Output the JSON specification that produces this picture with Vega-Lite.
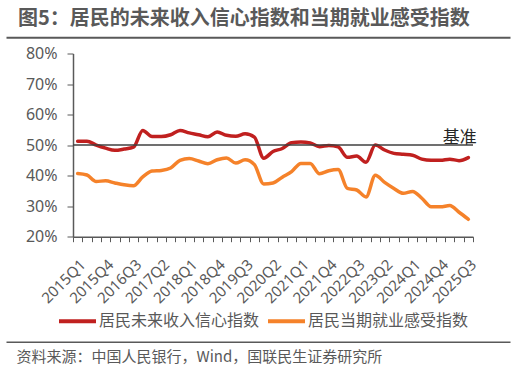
{
  "$schema": "https://vega.github.io/schema/vega-lite/v6.json",
  "autosize": {"type": "none"},
  "width": 504,
  "height": 183.2,
  "padding": {"left": 6, "top": 53.5, "right": 6, "bottom": 133.3},
  "background": "white",
  "title": {
    "text": "图5：居民的未来收入信心指数和当期就业感受指数",
    "anchor": "start", "frame": "group", "dx": 12, "offset": 8,
    "fontSize": 20, "font": "Noto Sans CJK SC", "fontWeight": "bold", "color": "#595959"
  },
  "config": {
    "view": {"stroke": null},
    "font": "Noto Sans CJK SC",
    "axisY": {
      "labelOverlap": false, "grid": false, "domainColor": "#595959", "domainWidth": 1.5,
      "tickColor": "#595959", "tickSize": 6, "labelPadding": 10, "labelFontSize": 16,
      "labelFont": "Noto Sans", "labelColor": "#595959", "title": null
    }
  },
  "data": {"values": [
    {"季度": "2015Q1", "居民未来收入信心指数": 51.3, "居民当期就业感受指数": 40.7},
    {"季度": "2015Q2", "居民未来收入信心指数": 51.3, "居民当期就业感受指数": 40.2},
    {"季度": "2015Q3", "居民未来收入信心指数": 50.0, "居民当期就业感受指数": 38.1},
    {"季度": "2015Q4", "居民未来收入信心指数": 49.0, "居民当期就业感受指数": 38.3},
    {"季度": "2016Q1", "居民未来收入信心指数": 48.3, "居民当期就业感受指数": 37.6},
    {"季度": "2016Q2", "居民未来收入信心指数": 48.7, "居民当期就业感受指数": 37.0},
    {"季度": "2016Q3", "居民未来收入信心指数": 49.3, "居民当期就业感受指数": 36.7},
    {"季度": "2016Q4", "居民未来收入信心指数": 54.8, "居民当期就业感受指数": 39.6},
    {"季度": "2017Q1", "居民未来收入信心指数": 52.8, "居民当期就业感受指数": 41.5},
    {"季度": "2017Q2", "居民未来收入信心指数": 52.8, "居民当期就业感受指数": 41.7},
    {"季度": "2017Q3", "居民未来收入信心指数": 53.4, "居民当期就业感受指数": 42.5},
    {"季度": "2017Q4", "居民未来收入信心指数": 54.8, "居民当期就业感受指数": 45.0},
    {"季度": "2018Q1", "居民未来收入信心指数": 54.0, "居民当期就业感受指数": 45.6},
    {"季度": "2018Q2", "居民未来收入信心指数": 53.4, "居民当期就业感受指数": 44.8},
    {"季度": "2018Q3", "居民未来收入信心指数": 52.7, "居民当期就业感受指数": 43.9},
    {"季度": "2018Q4", "居民未来收入信心指数": 54.3, "居民当期就业感受指数": 45.2},
    {"季度": "2019Q1", "居民未来收入信心指数": 53.2, "居民当期就业感受指数": 45.8},
    {"季度": "2019Q2", "居民未来收入信心指数": 52.9, "居民当期就业感受指数": 44.1},
    {"季度": "2019Q3", "居民未来收入信心指数": 53.7, "居民当期就业感受指数": 45.2},
    {"季度": "2019Q4", "居民未来收入信心指数": 52.6, "居民当期就业感受指数": 43.6},
    {"季度": "2020Q1", "居民未来收入信心指数": 45.7, "居民当期就业感受指数": 37.3},
    {"季度": "2020Q2", "居民未来收入信心指数": 47.9, "居民当期就业感受指数": 37.6},
    {"季度": "2020Q3", "居民未来收入信心指数": 48.9, "居民当期就业感受指数": 39.5},
    {"季度": "2020Q4", "居民未来收入信心指数": 50.8, "居民当期就业感受指数": 41.3},
    {"季度": "2021Q1", "居民未来收入信心指数": 51.0, "居民当期就业感受指数": 44.0},
    {"季度": "2021Q2", "居民未来收入信心指数": 50.7, "居民当期就业感受指数": 44.0},
    {"季度": "2021Q3", "居民未来收入信心指数": 49.5, "居民当期就业感受指数": 40.6},
    {"季度": "2021Q4", "居民未来收入信心指数": 49.9, "居民当期就业感受指数": 41.6},
    {"季度": "2022Q1", "居民未来收入信心指数": 49.4, "居民当期就业感受指数": 42.0},
    {"季度": "2022Q2", "居民未来收入信心指数": 46.0, "居民当期就业感受指数": 35.8},
    {"季度": "2022Q3", "居民未来收入信心指数": 46.4, "居民当期就业感受指数": 35.3},
    {"季度": "2022Q4", "居民未来收入信心指数": 44.4, "居民当期就业感受指数": 33.0},
    {"季度": "2023Q1", "居民未来收入信心指数": 50.0, "居民当期就业感受指数": 40.1},
    {"季度": "2023Q2", "居民未来收入信心指数": 48.4, "居民当期就业感受指数": 37.8},
    {"季度": "2023Q3", "居民未来收入信心指数": 47.3, "居民当期就业感受指数": 35.8},
    {"季度": "2023Q4", "居民未来收入信心指数": 47.0, "居民当期就业感受指数": 34.2},
    {"季度": "2024Q1", "居民未来收入信心指数": 46.7, "居民当期就业感受指数": 34.8},
    {"季度": "2024Q2", "居民未来收入信心指数": 45.4, "居民当期就业感受指数": 32.6},
    {"季度": "2024Q3", "居民未来收入信心指数": 45.0, "居民当期就业感受指数": 29.8},
    {"季度": "2024Q4", "居民未来收入信心指数": 45.0, "居民当期就业感受指数": 29.8},
    {"季度": "2025Q1", "居民未来收入信心指数": 45.4, "居民当期就业感受指数": 30.2},
    {"季度": "2025Q2", "居民未来收入信心指数": 44.9, "居民当期就业感受指数": 28.0},
    {"季度": "2025Q3", "居民未来收入信心指数": 45.9, "居民当期就业感受指数": 25.7}
  ]},
  "layer": [
    {
      "layer": [
        {
          "transform": [{"fold": ["居民未来收入信心指数", "居民当期就业感受指数"], "as": ["指标", "数值"]}],
          "mark": {"type": "line", "interpolate": "monotone", "strokeWidth": 3.5, "strokeCap": "round", "strokeJoin": "round"},
          "encoding": {
            "x": {
              "field": "季度", "type": "ordinal", "sort": null,
              "scale": {"type": "band", "range": [67, 467], "paddingInner": 0, "paddingOuter": 0},
              "axis": {
                "orient": "bottom", "title": null, "tickBand": "extent", "labelAngle": -45,
                "labelExpr": "((toNumber(substring(datum.value,0,4))-2015)*4 + toNumber(substring(datum.value,5,6)) - 1) % 3 == 0 ? datum.value : ''",
                "labelOverlap": false, "labelFontSize": 15, "labelFont": "Noto Sans", "labelColor": "#595959",
                "domainColor": "#595959", "domainWidth": 1.5, "tickColor": "#595959", "tickSize": 5, "labelPadding": 15, "grid": false
              }
            },
            "y": {
              "field": "数值", "type": "quantitative",
              "scale": {"domain": [20, 80], "nice": false, "zero": false},
              "axis": {"orient": "left", "offset": -67, "values": [20, 30, 40, 50, 60, 70, 80], "labelExpr": "datum.value + '%'", "labelOverlap": false}
            },
            "color": {
              "field": "指标", "type": "nominal",
              "scale": {"domain": ["居民未来收入信心指数", "居民当期就业感受指数"], "range": ["#C0201F", "#F5822A"]},
              "legend": {
                "orient": "none", "legendX": 51, "legendY": 247, "direction": "horizontal", "title": null,
                "symbolType": "stroke", "symbolSize": 1369, "symbolStrokeWidth": 4,
                "labelFontSize": 16, "labelColor": "#595959", "labelOffset": 1, "columnPadding": 0,
                "labelFont": "Noto Sans CJK SC", "labelLimit": 0
              }
            }
          }
        },
        {
          "data": {"values": [{"标签": "基准", "值": 50, "季度": "2025Q3"}]},
          "mark": {"type": "rule", "color": "#404040", "strokeWidth": 1.5},
          "encoding": {
            "x": {"datum": "2015Q1", "bandPosition": 0},
            "x2": {"datum": "2025Q3", "bandPosition": 1},
            "y": {"field": "值", "type": "quantitative",
                  "axis": {"orient": "left", "offset": -67, "values": [20, 30, 40, 50, 60, 70, 80], "labelExpr": "datum.value + '%'", "labelOverlap": false}}
          }
        },
        {
          "data": {"values": [{"标签": "基准", "值": 50, "季度": "2025Q3"}]},
          "mark": {"type": "text", "align": "right", "baseline": "middle", "dx": 8.4, "dy": -7, "fontSize": 17, "color": "#262626", "font": "Noto Sans CJK SC"},
          "encoding": {
            "x": {"field": "季度", "type": "ordinal"},
            "y": {"field": "值", "type": "quantitative",
                  "axis": {"orient": "left", "offset": -67, "values": [20, 30, 40, 50, 60, 70, 80], "labelExpr": "datum.value + '%'", "labelOverlap": false}},
            "text": {"field": "标签"}
          }
        }
      ]
    },
    {
      "mark": {"type": "point", "opacity": 0},
      "encoding": {
        "x": {
          "field": "季度", "type": "ordinal", "sort": null,
          "scale": {"type": "band", "range": [0, 504], "paddingInner": 0, "paddingOuter": 0},
          "axis": {"orient": "top", "offset": 16.2, "labels": false, "ticks": false, "grid": false,
                   "domainColor": "#595959", "domainWidth": 2, "title": null}
        }
      }
    },
    {
      "mark": {"type": "point", "opacity": 0},
      "encoding": {
        "x": {
          "field": "季度", "type": "ordinal", "sort": null,
          "scale": {"type": "band", "range": [0, 504], "paddingInner": 0, "paddingOuter": 0},
          "axis": {"orient": "bottom", "offset": 105, "labels": false, "ticks": false, "grid": false,
                   "domainColor": "#595959", "domainWidth": 1.5,
                   "title": "资料来源：中国人民银行，Wind，国联民生证券研究所",
                   "titleFont": "Noto Sans CJK SC", "titleFontSize": 15, "titleFontWeight": "normal",
                   "titleColor": "#595959", "titleAlign": "left", "titleAnchor": "start",
                   "titleX": 10, "titleY": 15, "titleBaseline": "middle"}
        }
      }
    }
  ],
  "resolve": {"scale": {"x": "independent"}, "axis": {"x": "independent"}}
}
